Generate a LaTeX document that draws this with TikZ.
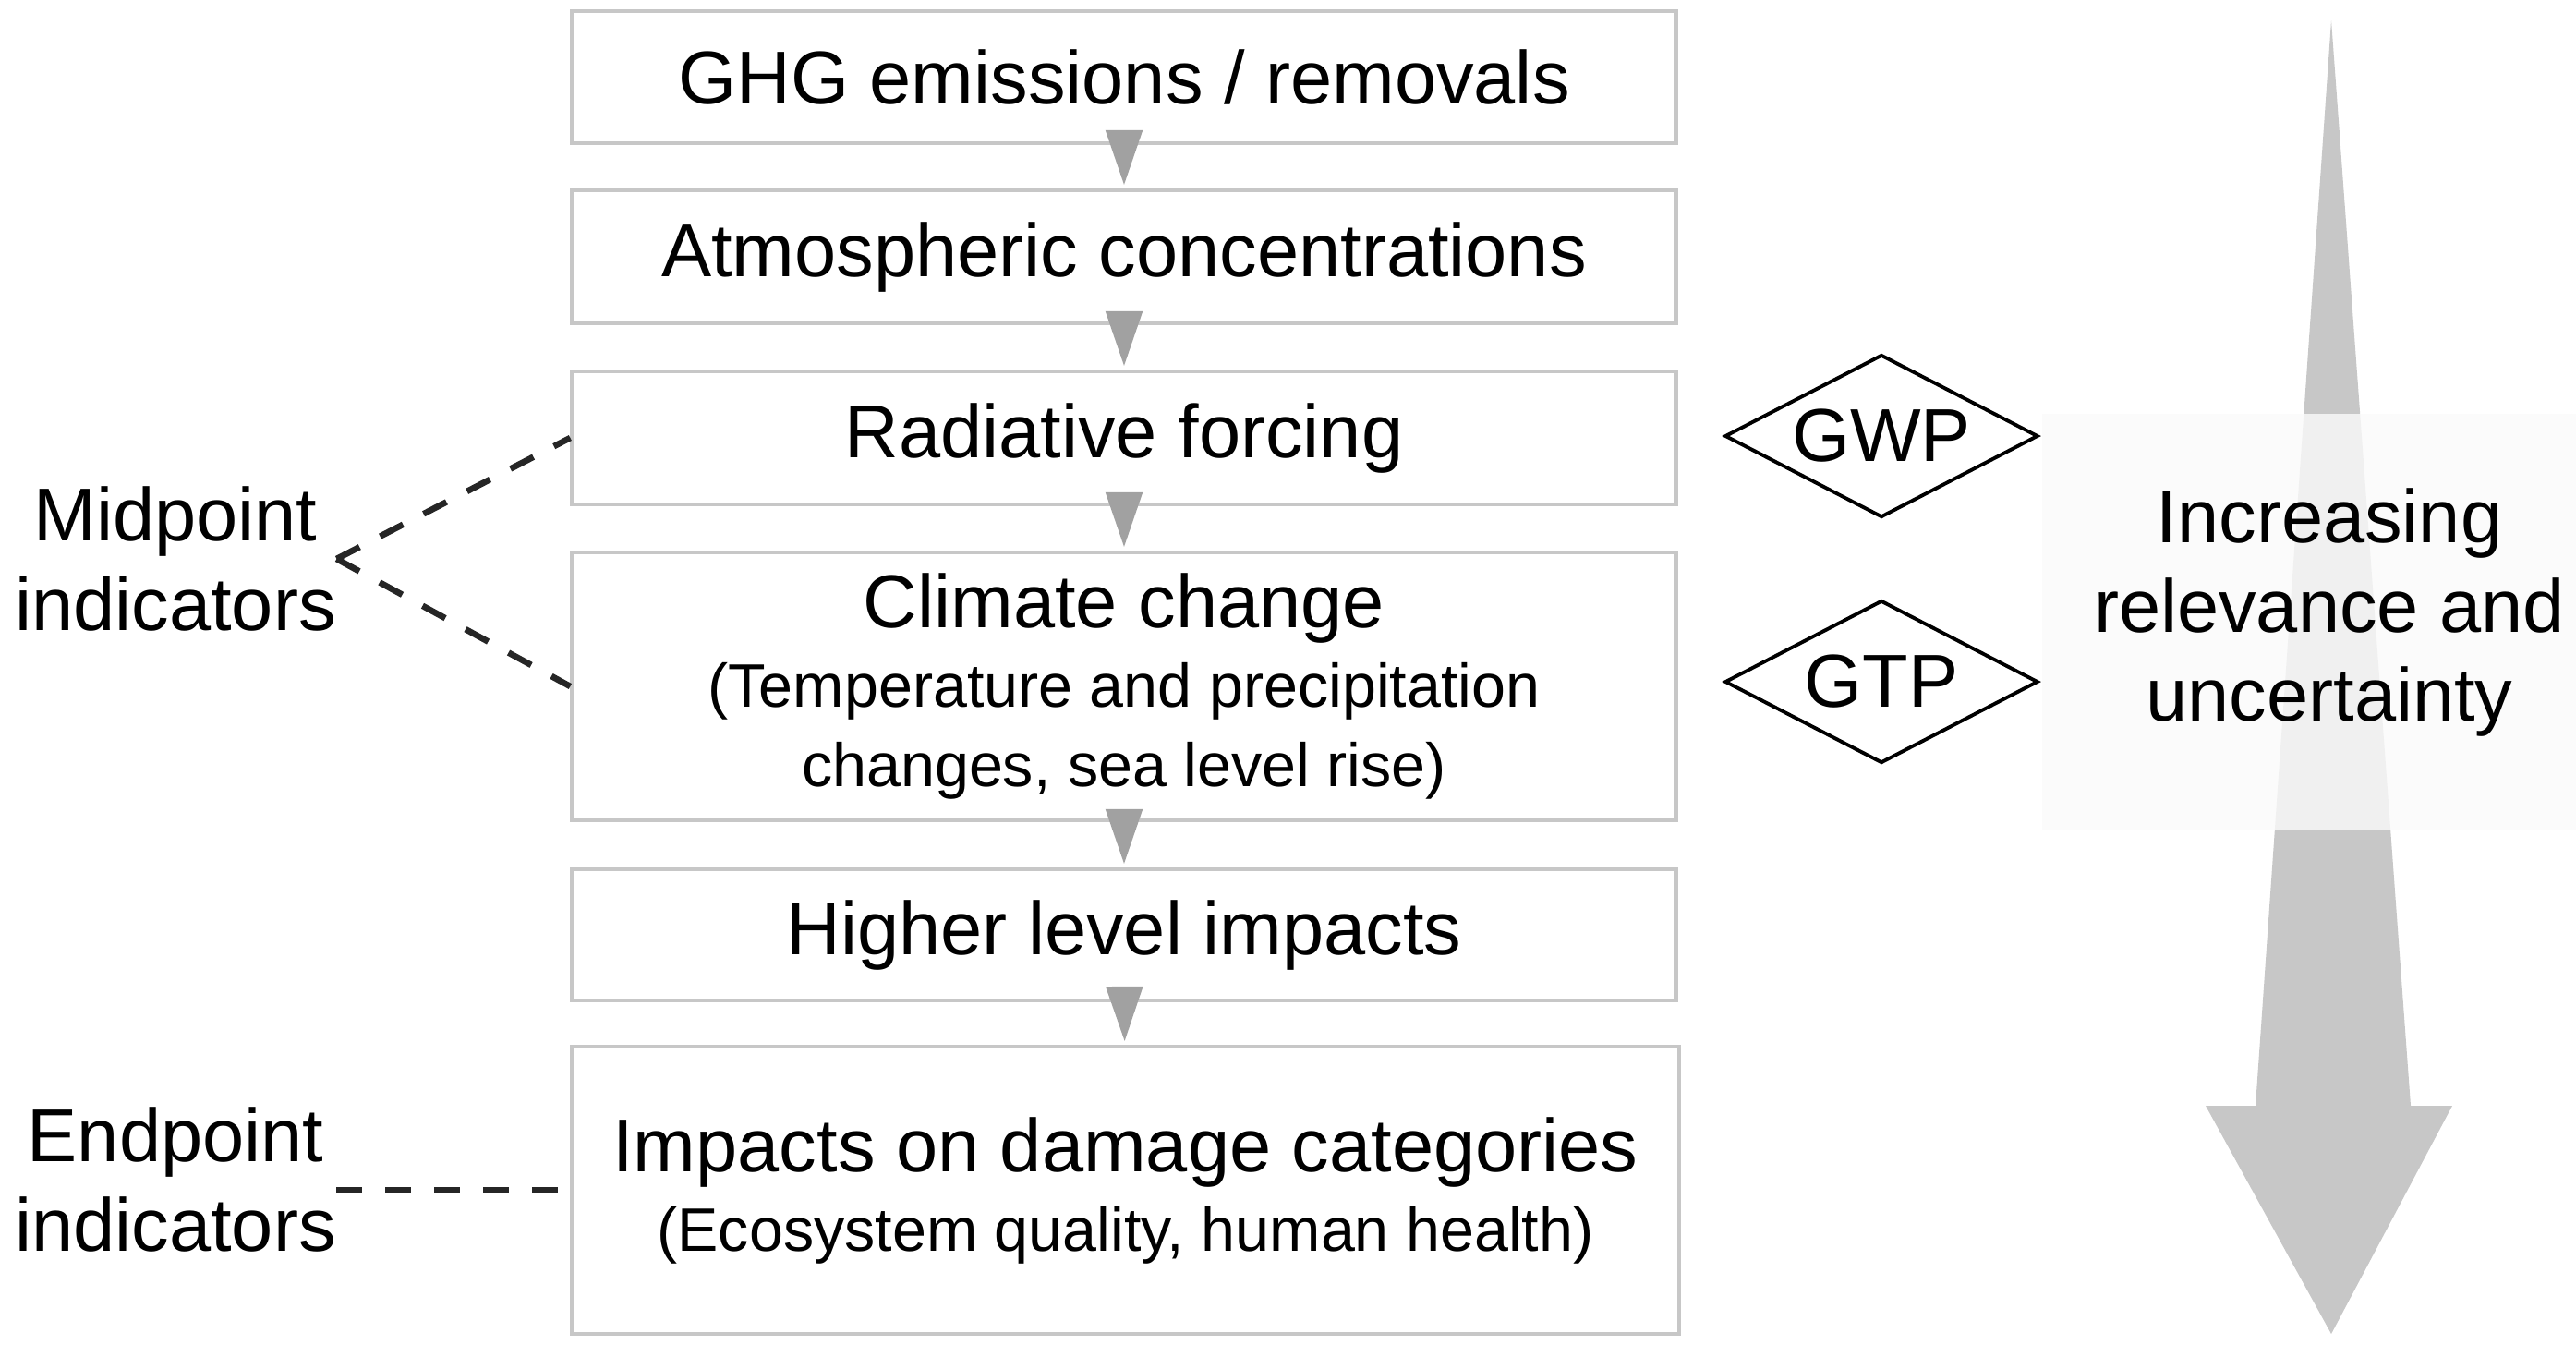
\documentclass[tikz,border=0pt]{standalone}
\usepackage{fontspec}
\setmainfont{Liberation Sans}
\usetikzlibrary{shapes.geometric, arrows.meta}

\newcommand{\stagefont}{\fontsize{23.1}{24.5}\selectfont}
\newcommand{\tagfont}{\fontsize{23.1}{27.4}\selectfont}
\newcommand{\notefont}{\fontsize{18.9}{23}\selectfont}

\begin{document}
\begin{tikzpicture}[
        stage/.style={rectangle, draw=black!22, line width=1.2pt, minimum width=11.95cm, inner sep=0pt, align=center, font=\stagefont},
        flow/.style={color=black!37, line width=0.6pt, shorten <=-0.12cm, shorten >=0.04cm, -{Triangle[length=0.59cm, width=0.40cm]}},
        metric/.style={diamond, draw=black, line width=1.1pt, minimum width=3.39cm, minimum height=1.76cm, inner sep=0pt, aspect=2, font=\stagefont},
        tag/.style={align=center, font=\tagfont, inner sep=0pt},
        dashlink/.style={draw=black!85, line width=1.9pt, dash pattern=on 0.28cm off 0.25cm}
    ]
                            \useasboundingbox (0, 0) rectangle (27.89, -14.68);

                            \fill[black!22] (25.24, -0.22) -- (26.10, -11.97) -- (26.55, -11.97) -- (25.24, -14.44) -- (23.88, -11.97) -- (24.42, -11.97) -- cycle;
                            \fill[white!98!black, fill opacity=0.82] (22.11, -4.48) rectangle (27.89, -8.98);

                            \node (GHG)[stage, minimum height=1.43cm] at (12.17, -0.835) {GHG emissions / removals};
                            \node (ATM)[stage, minimum height=1.44cm] at (12.17, -2.78) {Atmospheric concentrations};
                            \node (RF)[stage, minimum height=1.44cm] at (12.17, -4.74) {Radiative forcing};
                            \node (CC)[stage, minimum height=2.90cm] at (12.17, -7.43) {Climate change\\{\notefont (Temperature and precipitation}\\{\notefont changes, sea level rise)}};
                            \node (HLI)[stage, minimum height=1.42cm] at (12.17, -10.12) {Higher level impacts};
                            \node (DMG)[stage, minimum width=11.99cm, minimum height=3.11cm] at (12.185, -12.885) {Impacts on damage categories\\{\notefont (Ecosystem quality, human health)}};

                            \node (GWP)[metric] at (20.37, -4.72) {GWP};
                            \node (GTP)[metric] at (20.37, -7.38) {GTP};

                            \node (MID)[tag] at (1.90, -6.05) {Midpoint\\indicators};
                            \node (END)[tag] at (1.90, -12.77) {Endpoint\\indicators};
                            \node (REL)[tag] at (25.22, -6.63) {Increasing\\relevance and\\uncertainty};

                            \draw[flow] (GHG) edge (ATM);
                            \draw[flow] (ATM) edge (RF);
                            \draw[flow] (RF) edge (CC);
                            \draw[flow] (CC) edge (HLI);
                            \draw[flow] (HLI) edge (DMG);

                            \draw[dashlink] (MID.east) -- (RF.west);
                            \draw[dashlink] (MID.east) -- (CC.west);
                            \draw[dashlink] (DMG.west -| END.east) -- (DMG.west);

                        \end{tikzpicture}
\end{document}
